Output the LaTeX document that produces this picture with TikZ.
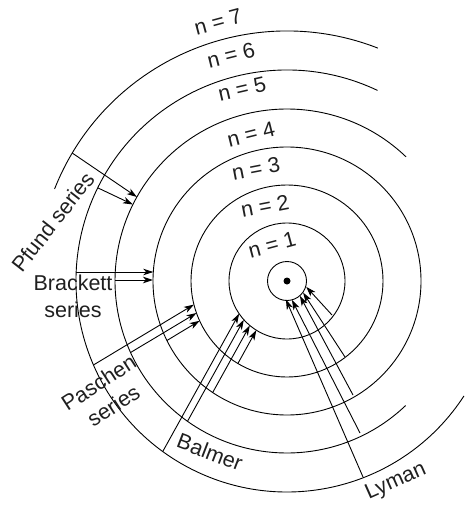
\documentclass[tikz,border=0pt]{standalone}
\usepackage{fontspec}
\setmainfont{Liberation Sans}
\usetikzlibrary{arrows.meta,calc}
\begin{document}
\begin{tikzpicture}[x=1pt,y=-1pt,
  orbit/.style={line width=0.9pt},
  trans/.style={line width=0.9pt,-{Stealth[length=10pt,width=6.5pt,inset=2.8pt]}},
  lbl/.style={font=\fontsize{21.5}{27}\selectfont, inner sep=0pt, align=center, text=black!88}]
\useasboundingbox (0,0) rectangle (464,506);
\coordinate (O) at (287,281);
% nucleus and orbits
\fill (O) circle[radius=3.5];
\foreach \r in {19.5,58,96,134} \draw[orbit] (O) circle[radius=\r];
\draw[orbit] ($(O)+(-46.2:172)$) arc[start angle=-46.2, end angle=-313.6, radius=172];
\draw[orbit] ($(O)+(-64.6:211)$) arc[start angle=-64.6, end angle=-327, radius=211];
\draw[orbit] ($(O)+(-68.7:250)$) arc[start angle=-68.7, end angle=-158.4, radius=250];
% level labels
\node[lbl, rotate=15] (l7) at (218,22) {n = 7};
\node[lbl, rotate=14] (l6) at (231,55) {n = 6};
\node[lbl, rotate=13] (l5) at (242,89) {n = 5};
\node[lbl, rotate=14] (l4) at (251,134) {n = 4};
\node[lbl, rotate=11] (l3) at (256,169) {n = 3};
\node[lbl, rotate=11] (l2) at (265,206) {n = 2};
\node[lbl, rotate=15] (l1) at (272,245) {n = 1};
% Pfund
\coordinate (pf1s) at (72.2,153); \coordinate (pf1e) at (136.9,197);
\coordinate (pf2s) at (97.7,187.8); \coordinate (pf2e) at (132.9,204.5);
\draw[trans] (pf1s) -- (pf1e);
\draw[trans] (pf2s) -- (pf2e);
% Brackett
\coordinate (br1s) at (76,272); \coordinate (br1e) at (153.3,272);
\coordinate (br2s) at (115,280); \coordinate (br2e) at (153,280);
\draw[trans] (br1s) -- (br1e);
\draw[trans] (br2s) -- (br2e);
% Paschen
\coordinate (pa1s) at (93.4,365); \coordinate (pa1e) at (193.9,304.6);
\coordinate (pa2s) at (130.6,352.5); \coordinate (pa2e) at (196.5,313);
\coordinate (pa3s) at (166.9,340.5); \coordinate (pa3e) at (199.6,320.8);
\draw[trans] (pa1s) -- (pa1e);
\draw[trans] (pa2s) -- (pa2e);
\draw[trans] (pa3s) -- (pa3e);
% Balmer
\coordinate (ba1s) at (162.7,451.6); \coordinate (ba1e) at (239.1,313.7);
\coordinate (ba2s) at (187.5,421.3); \coordinate (ba2e) at (243.8,319.8);
\coordinate (ba3s) at (212.7,392.5); \coordinate (ba3e) at (249.8,325.5);
\coordinate (ba4s) at (237.9,363.5); \coordinate (ba4e) at (256.3,330.2);
\draw[trans] (ba1s) -- (ba1e);
\draw[trans] (ba2s) -- (ba2e);
\draw[trans] (ba3s) -- (ba3e);
\draw[trans] (ba4s) -- (ba4e);
% Lyman
\coordinate (ly1s) at (363,477); \coordinate (ly1e) at (285.9,299.5);
\coordinate (ly2s) at (360,433); \coordinate (ly2e) at (291.9,299.9);
\coordinate (ly3s) at (353,395); \coordinate (ly3e) at (299.9,295.9);
\coordinate (ly4s) at (345,357); \coordinate (ly4e) at (303.1,292.6);
\coordinate (ly5s) at (332,315); \coordinate (ly5e) at (306.2,286.8);
\draw[trans] (ly1s) -- (ly1e);
\draw[trans] (ly2s) -- (ly2e);
\draw[trans] (ly3s) -- (ly3e);
\draw[trans] (ly4s) -- (ly4e);
\draw[trans] (ly5s) -- (ly5e);
% series labels
\node[lbl, rotate=52] (pfund) at (53,222) {Pfund series};
\node[lbl] (brackett) at (73,296) {Brackett\\series};
\node[lbl, rotate=33] (paschen) at (106,394) {Paschen\\series};
\node[lbl, rotate=-21] (balmer) at (210,452) {Balmer};
\node[lbl, rotate=24] (lyman) at (396,482) {Lyman};
\end{tikzpicture}
\end{document}
